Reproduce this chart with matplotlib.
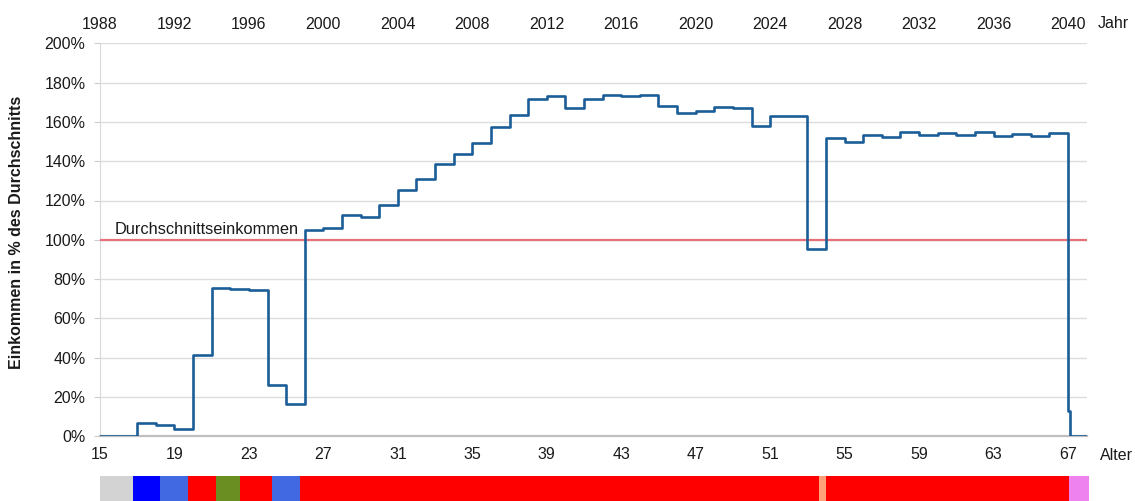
import matplotlib.pyplot as plt
import numpy as np

plt.rcParams['font.family'] = ['Liberation Sans', 'DejaVu Sans']

# Einkommen je Lebensjahr (in % des Durchschnittseinkommens)
alter = [15, 16, 17, 18, 19, 20, 21, 22, 23, 24, 25, 26, 27, 28, 29, 30,
         31, 32, 33, 34, 35, 36, 37, 38, 39, 40, 41, 42, 43, 44, 45, 46,
         47, 48, 49, 50, 51, 52, 53, 54, 55, 56, 57, 58, 59, 60, 61, 62,
         63, 64, 65, 66, 67, 67.1]
einkommen = [0, 0, 6.9, 5.6, 3.7, 41.4, 75.5, 75.0, 74.5, 26.3, 16.3, 105.0,
             106.2, 112.6, 111.8, 117.7, 125.3, 130.8, 138.4, 143.7, 149.1,
             157.6, 163.4, 171.8, 173.2, 167.2, 171.5, 173.7, 173.0, 173.7,
             168.2, 164.7, 165.7, 167.4, 166.9, 157.9, 163.2, 163.2, 95.2,
             151.7, 149.9, 153.3, 152.5, 154.9, 153.5, 154.4, 153.2, 154.9,
             152.7, 153.8, 153.0, 154.4, 13.0, 0]

# Achsenbeschriftungen
alter_ticks = [15, 19, 23, 27, 31, 35, 39, 43, 47, 51, 55, 59, 63, 67]
jahr_labels = ['1988', '1992', '1996', '2000', '2004', '2008', '2012',
               '2016', '2020', '2024', '2028', '2032', '2036', '2040']

# Status-Balken unten (Beginn je Abschnitt, Farbe)
status_start = [15, 16.75, 18.25, 19.75, 21.25, 22.5, 24.25, 25.75, 53.6, 54.0, 67.05]
status_ende = 68.15
status_farben = ['lightgray', 'blue', 'royalblue', 'red', 'olivedrab', 'red',
                 'royalblue', 'red', 'lightsalmon', 'red', 'violet']

W, H = 1135, 501
fig = plt.figure(figsize=(W / 100, H / 100), dpi=100)
ax = fig.add_axes([100 / W, 1 - 436.3 / H, 986.6 / W, 393 / H])

x = np.append(alter, 68)
y = np.append(einkommen, einkommen[-1])
ax.plot(x, y, drawstyle='steps-post', color='#1B5E97', lw=1.9, zorder=4)

# Durchschnittslinie
ax.axhline(100, color='#E8707A', lw=1.6, zorder=3)
ax.text(15.8, 101.2, 'Durchschnittseinkommen', fontsize=11.8, color='#1a1a1a',
        ha='left', va='bottom')

ax.set_xlim(15, 68)
ax.set_ylim(0, 200)
ax.set_yticks(np.arange(0, 201, 20))
ax.set_yticklabels([f'{v}%' for v in range(0, 201, 20)])
ax.set_xticks(alter_ticks)
ax.grid(True, axis='y', color='#DDDDDD', lw=1)
ax.set_axisbelow(True)
ax.tick_params(axis='y', length=4, width=0.8, color='#CCCCCC', pad=6.5,
               labelsize=11.5, labelcolor='#1a1a1a')
ax.tick_params(axis='x', length=0, pad=8, labelsize=11.5, labelcolor='#1a1a1a')
for s in ['top', 'right']:
    ax.spines[s].set_visible(False)
ax.spines['left'].set_color('#D9D9D9')
ax.spines['bottom'].set_color('#BFBFBF')
ax.spines['bottom'].set_linewidth(1.6)

# Jahresachse oben
ax2 = ax.twiny()
ax2.set_xlim(ax.get_xlim())
ax2.set_xticks(alter_ticks)
ax2.set_xticklabels(jahr_labels)
ax2.tick_params(axis='x', length=0, pad=8, labelsize=11.5, labelcolor='#1a1a1a')
for s in ax2.spines.values():
    s.set_visible(False)

fig.text(1098 / W, 1 - 23 / H, 'Jahr', fontsize=11.5, ha='left', va='center', color='#1a1a1a')
fig.text(1100 / W, 1 - 455 / H, 'Alter', fontsize=11.5, ha='left', va='center', color='#1a1a1a')
fig.text(17 / W, 1 - 232 / H, 'Einkommen in % des Durchschnitts', fontsize=11.5,
         fontweight='bold', rotation=90, ha='center', va='center', color='#1a1a1a')

# Status-Balken
axb = fig.add_axes([100 / W, 0, 986.6 / W, 25 / H])
grenzen = status_start + [status_ende]
for i, farbe in enumerate(status_farben):
    axb.broken_barh([(grenzen[i], grenzen[i + 1] - grenzen[i])], (0, 1), color=farbe, lw=0)
axb.set_xlim(15, 68)
axb.set_ylim(0, 1)
axb.axis('off')
for c in axb.collections:
    c.set_clip_on(False)

fig.savefig('out.png', dpi=100)
